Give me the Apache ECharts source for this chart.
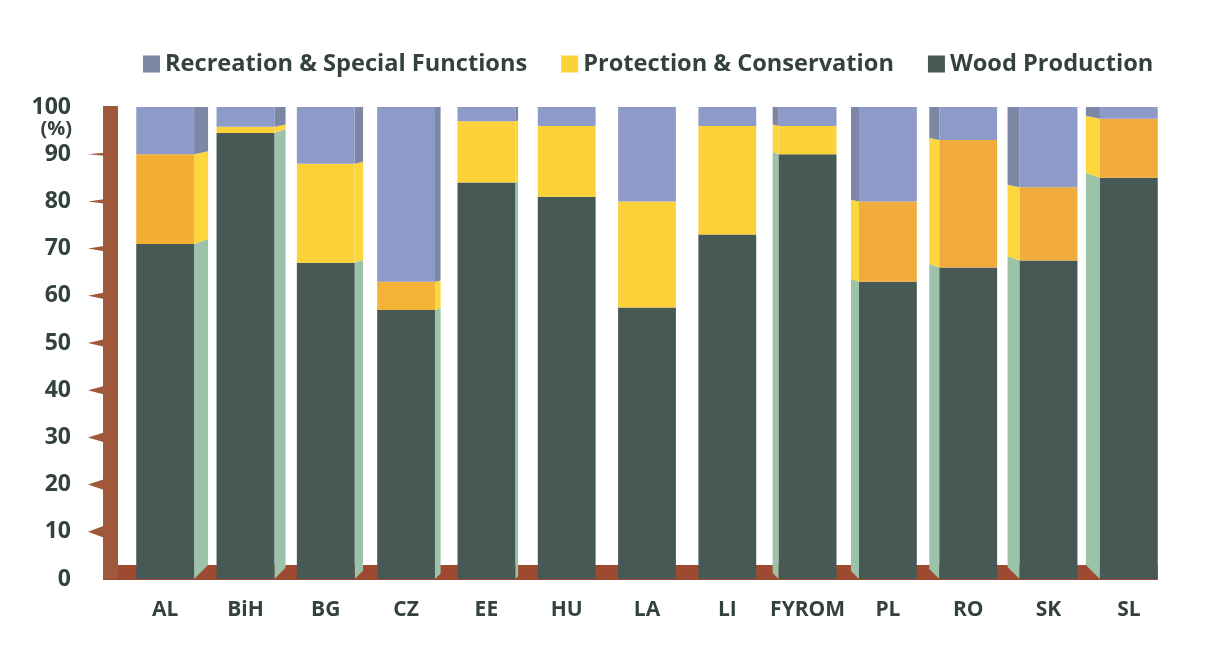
<!DOCTYPE html>
<html>
<head>
<meta charset="utf-8">
<script src="https://cdn.jsdelivr.net/npm/echarts@6/dist/echarts.min.js"></script>
<style>
  html, body { margin: 0; padding: 0; background: #ffffff; }
  #chart { width: 1215px; height: 656px; }
</style>
</head>
<body>
<div id="chart"></div>
<script>
// Forest function shares by country (%), stacked to 100
const countries = ['AL', 'BiH', 'BG', 'CZ', 'EE', 'HU', 'LA', 'LI', 'FYROM', 'PL', 'RO', 'SK', 'SL'];
const woodProduction = [71, 94.5, 67, 57, 84, 81, 57.5, 73, 90, 63, 66, 67.5, 85];
const protectionConservation = [19, 1.3, 21, 6, 13, 15, 22.5, 23, 6, 17, 27, 15.5, 12.5];
const recreationSpecial = [10, 4.2, 12, 37, 3, 4, 20, 4, 4, 20, 7, 17, 2.5];
const yTicks = [0, 10, 20, 30, 40, 50, 60, 70, 80, 90, 100];

// Colours
const WOOD = '#475955', WOOD_SIDE = '#9cc3a9';
const PROT_Y = '#fbd23a', PROT_O = '#f1aa3c', PROT_SIDE = '#fcd63c';
const REC = '#8e9bc8', REC_SIDE = '#7c87a6';
const BROWN = '#9e4a30', WALL = '#a0583a';
const TEXT = '#33413f';
const FONT = '"Open Sans", "Noto Sans", sans-serif';

// front colour of the protection band: warmer print on the outer bars
const protFront = ['#f3ae33', PROT_Y, PROT_Y, '#f4b236', PROT_Y, PROT_Y, PROT_Y,
                   PROT_Y, PROT_Y, PROT_O, PROT_O, PROT_O, PROT_O];

const chart = echarts.init(document.getElementById('chart'), null, { renderer: 'canvas' });

const BAR_RATIO = 0.72;

// width of the receding side face of a column, from its horizontal position
function sideWidth(cx) {
  const vx = 566;
  if (cx < vx) return (vx - cx) * 0.035;
  if (cx > 760) return (cx - vx) * 0.025;
  return 0;
}

// side faces of each column (segment boundaries taken from the stacked values)
function renderSides(params, api) {
  const i = api.value(0);
  const w = api.value(1), p = api.value(2), r = api.value(3);
  const base = api.coord([i, 0]);
  const band = api.size([1, 0])[0];
  const half = band * BAR_RATIO / 2;
  const cx = base[0];
  const sw = sideWidth(cx);
  if (sw < 0.5) return { type: 'group', children: [] };
  const right = cx < 566;
  const xe = right ? cx + half : cx - half;      // front edge
  const xo = right ? xe + sw : xe - sw;          // outer edge
  const yb = base[1];
  const yw = api.coord([i, w])[1];
  const yp = api.coord([i, w + p])[1];
  const yr = api.coord([i, w + p + r])[1];
  const tilt = sw * 0.35;
  const poly = (pts, fill) => ({ type: 'polygon', shape: { points: pts }, style: { fill: fill } });
  return {
    type: 'group',
    children: [
      poly([[xe, yw], [xo, yw - tilt], [xo, yb - sw], [xe, yb]], WOOD_SIDE),
      poly([[xe, yp], [xo, yp - tilt * 0.6], [xo, yw - tilt], [xe, yw]], PROT_SIDE),
      poly([[xe, yr], [xo, yr], [xo, yp - tilt * 0.6], [xe, yp]], REC_SIDE)
    ]
  };
}

// brown back wall with its tick teeth, and the floor strip
function renderFrame(params, api) {
  const band = api.size([1, 0])[0];
  const first = api.coord([0, 0]);
  const last = api.coord([countries.length - 1, 0]);
  const top = api.coord([0, 100])[1];
  const gridLeft = first[0] - band / 2;
  const wallR = gridLeft - 7, wallL = gridLeft - 22;
  const floorTop = first[1] - 14;
  const children = [
    { type: 'rect', shape: { x: wallL, y: floorTop, width: last[0] + band * BAR_RATIO / 2 - wallL, height: first[1] - floorTop + 1 }, style: { fill: BROWN } },
    { type: 'rect', shape: { x: wallL, y: top - 1, width: wallR - wallL, height: first[1] - top + 1 }, style: { fill: WALL } }
  ];
  yTicks.forEach(function (v) {
    if (v === 0 || v === 100) return;
    const y = api.coord([0, v])[1];
    const h = 1 + (100 - v) * 0.055;
    children.push({ type: 'polygon', shape: { points: [[wallL + 1, y - h], [wallL - 15, y], [wallL + 1, y + h]] }, style: { fill: WALL } });
  });
  return { type: 'group', children: children };
}

const sideData = countries.map(function (c, i) {
  return [i, woodProduction[i], protectionConservation[i], recreationSpecial[i]];
});

chart.setOption({
  animation: false,
  backgroundColor: '#ffffff',
  textStyle: { fontFamily: FONT },
  legend: {
    left: 138,
    top: 47,
    itemWidth: 17,
    itemHeight: 17,
    itemGap: 34,
    icon: 'rect',
    data: [
      { name: 'Recreation & Special Functions', itemStyle: { color: REC_SIDE } },
      'Protection & Conservation',
      'Wood Production'
    ],
    textStyle: { fontFamily: FONT, fontSize: 23.6, fontWeight: 'bold', color: TEXT }
  },
  grid: { left: 125, right: 46, top: 107, bottom: 77 },
  xAxis: {
    type: 'category',
    data: countries,
    axisLine: { show: false },
    axisTick: { show: false },
    axisLabel: { interval: 0, margin: 21, fontFamily: FONT, fontSize: 21, fontWeight: 'bold', color: TEXT }
  },
  yAxis: {
    type: 'value',
    min: 0,
    max: 100,
    interval: 10,
    name: '(%)',
    nameLocation: 'end',
    nameGap: -12,
    nameTextStyle: { align: 'right', verticalAlign: 'top', padding: [0, 53, 0, 0], fontFamily: FONT, fontSize: 20, fontWeight: 'bold', color: TEXT },
    axisLine: { show: false },
    axisTick: { show: false },
    splitLine: { show: false },
    axisLabel: { margin: 54, fontFamily: FONT, fontSize: 23, fontWeight: 'bold', color: TEXT }
  },
  series: [
    {
      type: 'custom',
      name: 'frame',
      renderItem: renderFrame,
      data: [[0, 0]],
      z: 1,
      silent: true
    },
    {
      type: 'custom',
      name: 'sides',
      renderItem: renderSides,
      data: sideData,
      encode: { x: 0, y: 1 },
      z: 2,
      silent: true
    },
    {
      name: 'Wood Production',
      type: 'bar',
      stack: 'total',
      barWidth: (BAR_RATIO * 100) + '%',
      itemStyle: { color: WOOD },
      data: woodProduction,
      z: 3
    },
    {
      name: 'Protection & Conservation',
      type: 'bar',
      stack: 'total',
      itemStyle: { color: PROT_Y },
      data: protectionConservation.map(function (v, i) {
        return { value: v, itemStyle: { color: protFront[i] } };
      }),
      z: 3
    },
    {
      name: 'Recreation & Special Functions',
      type: 'bar',
      stack: 'total',
      itemStyle: { color: REC },
      data: recreationSpecial,
      z: 3
    }
  ]
});
</script>
</body>
</html>
